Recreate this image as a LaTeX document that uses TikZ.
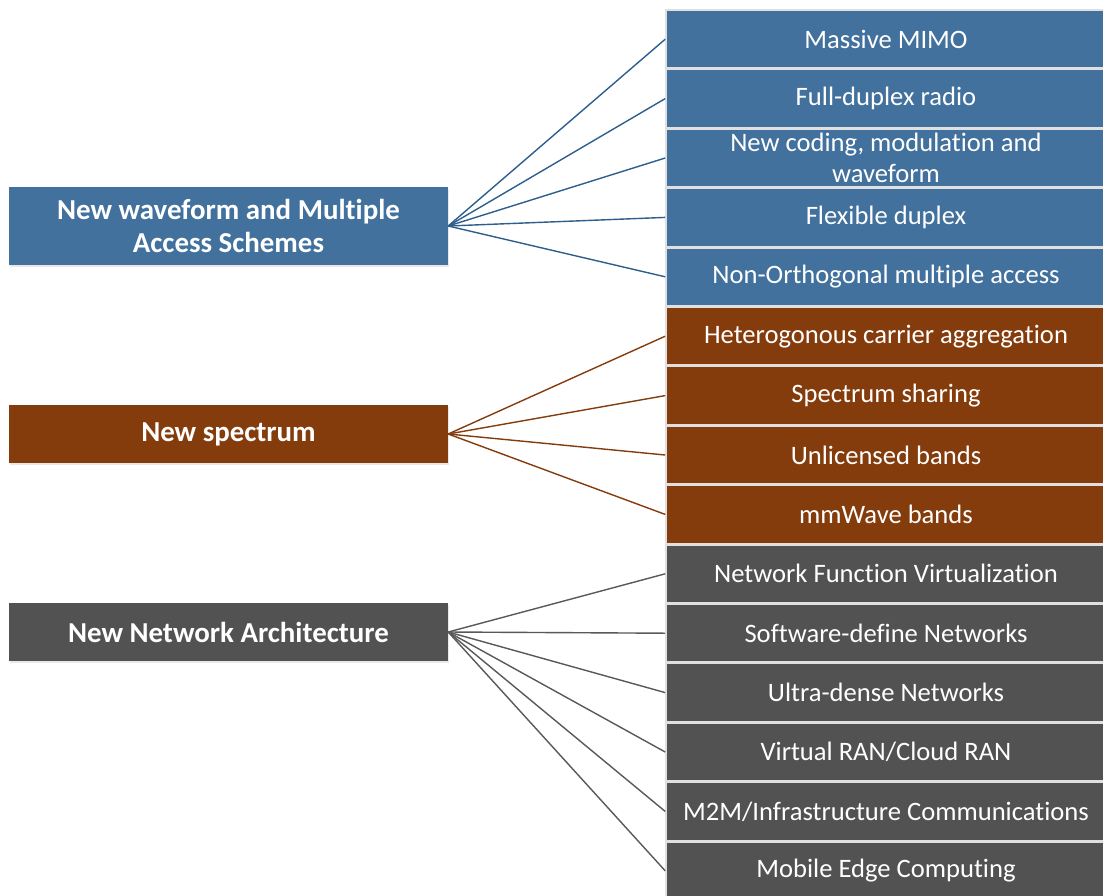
\documentclass[tikz,border=0pt]{standalone}
\usepackage{fontspec}
\setmainfont[Ligatures={NoCommon}]{Carlito}
\usetikzlibrary{shadows}
\definecolor{cblue}{HTML}{41719C}
\definecolor{cbrown}{HTML}{843C0C}
\definecolor{cgray}{HTML}{525252}
\definecolor{lblue}{HTML}{2E5E8C}
\definecolor{lbrown}{HTML}{843C0C}
\definecolor{lgray}{HTML}{595959}
\tikzset{
  x=1pt, y=-1pt,
  catbox/.style={draw=none, text=white, font=\fontsize{28.9}{33}\selectfont\bfseries,
    minimum width=439pt, align=center, inner sep=0pt,
    drop shadow={opacity=0.18, shadow xshift=1pt, shadow yshift=-2pt}},
  itembox/.style={draw=black!12, line width=1.6pt, text=white,
    font=\fontsize{26.6}{31}\selectfont, minimum width=440pt, minimum height=58pt,
    align=center, inner sep=0pt},
  link/.style={line width=1.4pt}
}
\begin{document}
\begin{tikzpicture}
\useasboundingbox (0,0) rectangle (1103,895);
\clip (0,0) rectangle (1103,895);
\fill[white] (0,0) rectangle (1103,895);

% category boxes
\node[catbox, fill=cblue, minimum height=78pt] (c1) at (228.5,226) {New waveform and Multiple\\Access Schemes};
\node[catbox, fill=cbrown, minimum height=58pt] (c2) at (228.5,434) {New spectrum};
\node[catbox, fill=cgray, minimum height=58pt] (c3) at (228.5,632) {New Network Architecture};

% item boxes
\foreach \i/\col/\txt in {
  1/cblue/{Massive MIMO},
  2/cblue/{Full-duplex radio},
  3/cblue/{New coding, modulation and\\waveform},
  4/cblue/{Flexible duplex},
  5/cblue/{Non-Orthogonal multiple access},
  6/cbrown/{Heterogonous carrier aggregation},
  7/cbrown/{Spectrum sharing},
  8/cbrown/{Unlicensed bands},
  9/cbrown/{mmWave bands},
  10/cgray/{Network Function Virtualization},
  11/cgray/{Software-define Networks},
  12/cgray/{Ultra-dense Networks},
  13/cgray/{Virtual RAN/Cloud RAN},
  14/cgray/{M2M/Infrastructure Communications},
  15/cgray/{Mobile Edge Computing}}
  \node[itembox, fill=\col] (r\i) at (886, {39.2+59.4*(\i-1)}) {\txt};

% connectors
\foreach \i in {1,...,5}  \draw[link, lblue]  (c1.east) -- (r\i.west);
\foreach \i in {6,...,9}  \draw[link, lbrown] (c2.east) -- (r\i.west);
\foreach \i in {10,...,15} \draw[link, lgray] (c3.east) -- (r\i.west);
\end{tikzpicture}
\end{document}
